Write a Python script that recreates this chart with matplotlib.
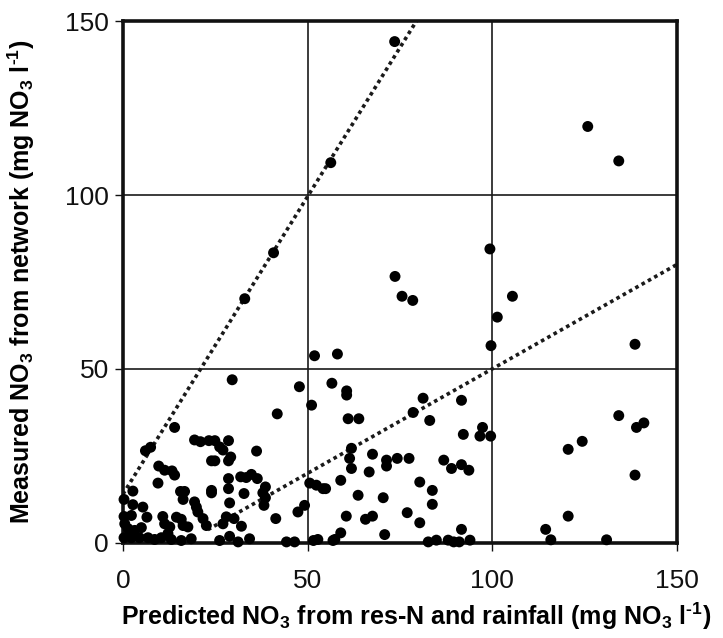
import matplotlib
matplotlib.use("Agg")
from matplotlib import pyplot as plt

# predicted (x) and measured (y) NO3, mg NO3 l-1
pred_hi = [73.6, 56.3, 40.8, 33.0, 125.9, 134.3, 99.4, 73.7, 75.6, 78.5, 105.5, 101.4,
           99.7, 138.7, 51.9, 58.1]
meas_hi = [144.1, 109.3, 83.4, 70.2, 119.7, 109.8, 84.5, 76.6, 70.9, 69.7, 70.9, 64.9,
           56.7, 57.1, 53.8, 54.3]

pred_mid = [47.8, 29.6, 56.6, 60.6, 60.6, 51.1, 81.3, 78.6, 91.7, 83.1, 61.0, 63.9,
            97.4, 92.2, 96.7, 99.6, 41.8, 134.3, 139.1, 141.1, 14.0]
meas_mid = [44.9, 46.9, 45.9, 43.7, 42.5, 39.6, 41.6, 37.5, 41.0, 35.2, 35.7, 35.7,
            33.2, 31.2, 30.7, 30.7, 37.1, 36.6, 33.2, 34.5, 33.2]

pred_lo = [61.9, 61.4, 61.9, 67.6, 66.7, 71.4, 71.4, 74.3, 77.5, 86.9, 89.0, 91.7,
           93.7, 80.4, 83.8, 83.8, 50.6, 52.4, 54.2, 54.9, 59.0, 63.7, 70.5, 49.2,
           47.4, 60.5, 65.7, 67.6, 77.0, 80.4, 91.7, 70.9, 59.0, 51.6, 52.8, 56.9,
           57.4, 82.7, 84.9, 88.1, 89.6, 91.1, 94.0, 120.6, 124.4, 138.7, 120.6, 114.5,
           115.9, 131.0]
meas_lo = [27.2, 24.3, 21.4, 25.5, 20.4, 23.8, 22.1, 24.3, 24.3, 23.8, 21.4, 22.5,
           20.9, 17.5, 15.1, 11.1, 17.2, 16.6, 15.6, 15.6, 18.0, 13.7, 13.0, 10.8,
           8.9, 7.7, 6.8, 7.7, 8.7, 5.8, 3.9, 2.4, 2.9, 0.7, 1.0, 0.7,
           1.0, 0.3, 0.8, 0.8, 0.3, 0.3, 0.8, 26.9, 29.2, 19.5, 7.7, 3.9,
           0.9, 0.9]

pred_left = [6.1, 7.5, 9.7, 11.3, 13.3, 14.0, 9.5, 15.6, 16.7, 2.7, 0.3, 2.7, 5.4,
             0.3, 2.3, 6.5, 10.8, 14.5, 15.8, 19.4, 19.9, 20.3, 21.7, 22.6, 19.4,
             21.0, 23.3, 24.0, 16.3, 11.3, 12.7, 12.2, 0.5, 1.4, 3.2, 5.0, 16.3, 17.6,
             0.3, 2.3, 4.5, 6.8, 8.6, 10.4, 13.1, 15.8, 18.5,
             24.9, 26.2, 28.6, 27.1, 24.9, 28.6, 29.2, 36.2, 28.6, 31.9, 33.4, 34.8,
             36.4, 24.0, 24.0, 28.6, 32.8, 38.6, 37.9, 38.6, 38.2, 28.9, 28.0, 30.1,
             27.1, 32.1, 41.4, 26.2, 28.9, 31.2, 34.3, 44.3, 46.5]
meas_left = [26.5, 27.5, 22.1, 20.9, 20.7, 19.5, 17.2, 14.8, 14.8, 14.9, 12.5, 11.0, 10.3,
             7.6, 7.9, 7.4, 7.6, 7.4, 6.8, 11.8, 10.3, 8.9, 7.0, 5.0, 29.6,
             29.1, 29.4, 23.6, 12.5, 5.5, 4.6, 2.7, 5.5, 4.1, 3.6, 4.4, 5.0, 4.6,
             1.5, 1.5, 1.5, 1.5, 1.0, 1.5, 1.0, 0.7, 1.2,
             29.4, 27.6, 29.4, 26.7, 23.6, 23.6, 24.7, 26.4, 18.5, 19.0, 18.8, 19.7,
             18.5, 15.1, 14.4, 15.6, 14.2, 16.1, 14.4, 13.0, 10.8, 11.5, 7.5, 7.0,
             5.5, 4.8, 7.0, 0.7, 1.9, 0.3, 1.2, 0.3, 0.3]

pred = pred_hi + pred_mid + pred_lo + pred_left
meas = meas_hi + meas_mid + meas_lo + meas_left

# the two dotted reference lines (end points)
steep_x = [0, 79.5]
steep_y = [14, 150]
flat_x = [23, 150]
flat_y = [3.8, 80]

ticks = [0, 50, 100, 150]


def main():
    plt.rcParams["font.family"] = ["Liberation Sans", "DejaVu Sans"]
    plt.rcParams["mathtext.fontset"] = "custom"
    plt.rcParams["mathtext.rm"] = "Liberation Sans:bold"
    plt.rcParams["mathtext.default"] = "rm"

    fig = plt.figure(figsize=(7.23, 6.38), dpi=100)
    ax = fig.add_axes([0.170, 0.149, 0.766, 0.818])

    ax.scatter(pred, meas, s=62, color="black", edgecolors="none", zorder=3,
               clip_on=False)
    for lx, ly in [(steep_x, steep_y), (flat_x, flat_y)]:
        ax.plot(lx, ly, color="#1a1a1a", lw=2.6, linestyle=(0, (1, 1.0)),
                dash_capstyle="butt", zorder=2)

    ax.set_xlim(0, 150)
    ax.set_ylim(0, 150)
    ax.set_xticks(ticks)
    ax.set_yticks(ticks)
    ax.grid(True, color="#1a1a1a", lw=1.2, zorder=0)
    ax.set_axisbelow(True)
    for sp in ax.spines.values():
        sp.set_linewidth(2.6)
        sp.set_color("#111111")

    ax.tick_params(axis="both", direction="out", length=6, width=1.0,
                   labelsize=19, colors="#111111")
    ax.tick_params(axis="x", pad=13)
    ax.tick_params(axis="y", pad=4)

    ax.set_xlabel("Predicted NO$_3$ from res-N and rainfall (mg NO$_3$ l$^{\u2010 1}$)",
                  fontsize=18, fontweight="bold")
    ax.xaxis.set_label_coords(0.53, -0.111)
    ax.set_ylabel("Measured NO$_3$ from network (mg NO$_3$ l$^{\u2010 1}$)",
                  fontsize=18, fontweight="bold", labelpad=20)

    fig.savefig("out.png", dpi=100)


if __name__ == "__main__":
    main()
